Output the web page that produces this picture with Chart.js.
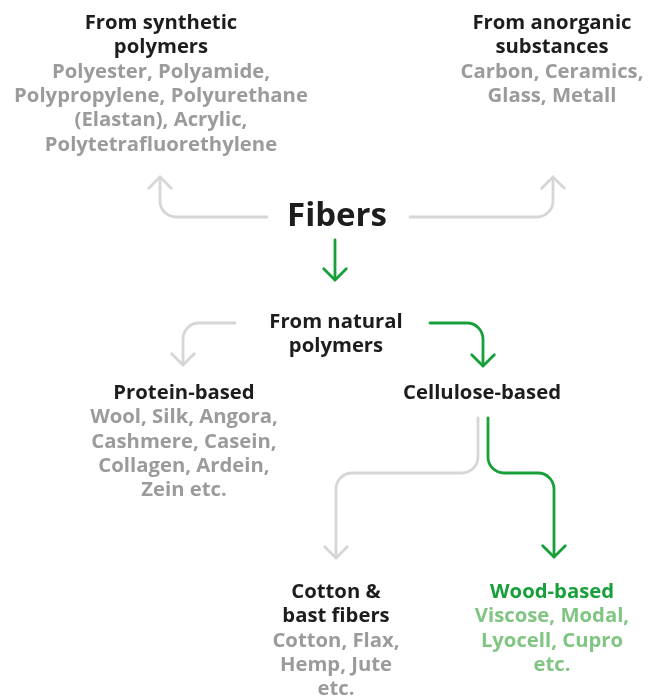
<!DOCTYPE html>
<html>
<head>
<meta charset="utf-8">
<title>Fibers</title>
<script src="https://cdn.jsdelivr.net/npm/chart.js@4"></script>
<style>
  html, body { margin: 0; padding: 0; background: #fff; }
  #wrap { width: 659px; height: 697px; position: relative; }
</style>
</head>
<body>
<div id="wrap"><canvas id="myChart"></canvas></div>
<script>
// nodes of the tree (x = centre, y = first text line)
const nodeTitles = [
  ['From synthetic', 'polymers'],
  ['From anorganic', 'substances'],
  ['Fibers'],
  ['From natural', 'polymers'],
  ['Protein-based'],
  ['Cellulose-based'],
  ['Cotton &', 'bast fibers'],
  ['Wood-based']
];
const nodeItems = [
  ['Polyester, Polyamide,', 'Polypropylene, Polyurethane', '(Elastan), Acrylic,', 'Polytetrafluorethylene'],
  ['Carbon, Ceramics,', 'Glass, Metall'],
  [],
  [],
  ['Wool, Silk, Angora,', 'Cashmere, Casein,', 'Collagen, Ardein,', 'Zein etc.'],
  [],
  ['Cotton, Flax,', 'Hemp, Jute', 'etc.'],
  ['Viscose, Modal,', 'Lyocell, Cupro', 'etc.']
];
const nodeX = [161, 552, 337, 336, 184, 482, 336, 552];
const nodeY = [23, 23, 217, 322, 393, 393, 592, 592];
const woodPath = [7]; // the highlighted leaf

// arrows: corner points, last point = arrow tip
const arrowSynthetic = [[267, 217], [160, 217], [160, 177]];
const arrowAnorganic = [[410, 217], [553, 217], [553, 177]];
const arrowNatural = [[335, 240], [335, 280]];
const arrowProtein = [[235, 323], [183, 323], [183, 365]];
const arrowCellulose = [[430, 323], [483, 323], [483, 366]];
const arrowCotton = [[478, 418], [478, 473], [336, 473], [336, 558]];
const arrowWood = [[488, 418], [488, 473], [554, 473], [554, 557]];

const arrows = [arrowSynthetic, arrowAnorganic, arrowNatural, arrowProtein, arrowCellulose, arrowCotton, arrowWood];
const arrowGreen = [false, false, true, false, true, false, true];

const GREY_LINE = '#d6d6d6';
const GREEN = '#17a03a';
const GREEN_LIGHT = '#80c682';
const DARK = '#1d1d1d';
const GREY_TEXT = '#9b9b9b';
const FONT = '"Open Sans", sans-serif';

const datasets = arrows.map(function(a, i) {
  return {
    label: 'arrow' + i,
    data: a.map(p => ({ x: p[0], y: p[1] })),
    showLine: false,
    pointRadius: 0
  };
});
datasets.push({
  label: 'nodes',
  data: nodeX.map((x, i) => ({ x: x, y: nodeY[i] })),
  pointRadius: 0
});

// draws the rounded arrows and the labels from the dataset points
const treePlugin = {
  id: 'tree',
  afterDatasetsDraw(chart) {
    const c = chart.ctx;
    c.save();
    c.lineCap = 'round';
    c.lineJoin = 'round';
    for (let i = 0; i < arrows.length; i++) {
      const pts = chart.getDatasetMeta(i).data;
      c.strokeStyle = arrowGreen[i] ? GREEN : GREY_LINE;
      c.lineWidth = 2.8;
      c.beginPath();
      c.moveTo(pts[0].x, pts[0].y);
      for (let k = 1; k < pts.length - 1; k++) {
        c.arcTo(pts[k].x, pts[k].y, pts[k + 1].x, pts[k + 1].y, 16);
      }
      const tip = pts[pts.length - 1];
      const prev = pts[pts.length - 2];
      c.lineTo(tip.x, tip.y);
      c.stroke();
      // chevron head
      const ang = Math.atan2(tip.y - prev.y, tip.x - prev.x);
      const len = 16;
      c.beginPath();
      c.moveTo(tip.x - len * Math.cos(ang - Math.PI / 4), tip.y - len * Math.sin(ang - Math.PI / 4));
      c.lineTo(tip.x, tip.y);
      c.lineTo(tip.x - len * Math.cos(ang + Math.PI / 4), tip.y - len * Math.sin(ang + Math.PI / 4));
      c.stroke();
    }

    const nodes = chart.getDatasetMeta(arrows.length).data;
    c.textAlign = 'center';
    c.textBaseline = 'middle';
    const lh = 24.4;
    nodes.forEach(function(pt, i) {
      const green = woodPath.includes(i);
      let y = pt.y;
      if (nodeTitles[i][0] === 'Fibers') {
        c.font = 'bold 33px ' + FONT;
        c.fillStyle = DARK;
        c.fillText('Fibers', pt.x, y);
        return;
      }
      c.font = 'bold 20.3px ' + FONT;
      c.fillStyle = green ? GREEN : DARK;
      nodeTitles[i].forEach(function(t) { c.fillText(t, pt.x, y); y += lh; });
      c.fillStyle = green ? GREEN_LIGHT : GREY_TEXT;
      nodeItems[i].forEach(function(t) { c.fillText(t, pt.x, y); y += lh; });
    });
    c.restore();
  }
};

const ctx = document.getElementById('myChart').getContext('2d');
const myChart = new Chart(ctx, {
  type: 'scatter',
  data: { datasets: datasets },
  options: {
    responsive: true,
    maintainAspectRatio: false,
    animation: false,
    layout: { padding: 0 },
    scales: {
      x: { type: 'linear', min: 0, max: 659, display: false },
      y: { type: 'linear', min: 0, max: 697, reverse: true, display: false }
    },
    plugins: {
      legend: { display: false },
      tooltip: { enabled: false }
    }
  },
  plugins: [treePlugin]
});
</script>
</body>
</html>
